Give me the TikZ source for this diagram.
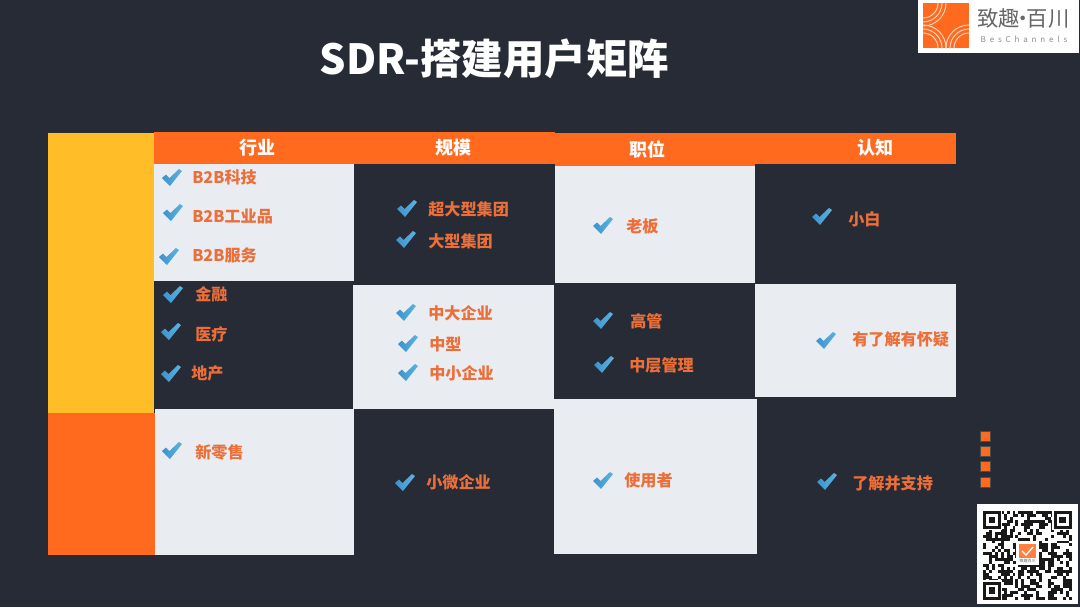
\documentclass[tikz,border=0pt]{standalone}
\usepackage{fontspec}
\setmainfont{Noto Sans CJK SC}
\usetikzlibrary{calc}
\definecolor{bgc}{HTML}{262B36}
\definecolor{orc}{HTML}{FF6A1F}
\definecolor{yec}{HTML}{FFBE28}
\definecolor{cellc}{HTML}{E9EDF2}
\definecolor{txtc}{HTML}{EC6E38}
\definecolor{chka}{HTML}{3C93CC}
\definecolor{chkb}{HTML}{5FB2E0}
\definecolor{arcc}{HTML}{FBD9C6}
\tikzset{
  headtxt/.style={text=white,font=\bfseries\fontsize{13.5}{15}\selectfont,inner sep=0pt},
  item/.style={text=txtc,font=\bfseries\fontsize{12.1}{14}\selectfont,anchor=west,inner sep=0pt},
  tick/.pic={\shade[left color=chka,right color=chkb] (-10,0) -- (-6,-3.5) -- (-2.5,0) -- (7,-9) -- (10,-7) -- (-2,8) -- cycle;}
}
% tick x, tick y, text x, text y, text
\newcommand{\itm}[5]{\pic at (#1,#2+1) {tick}; \node[item] (#5) at (#3,#4) {#5};}
\begin{document}
\begin{tikzpicture}[x=0.75pt,y=-0.75pt]
\useasboundingbox (0,0) rectangle (1080,607);
\fill[bgc] (0,0) rectangle (1080,607);
\node[text=white,font=\bfseries\fontsize{31.1}{34}\selectfont,inner sep=0pt] (title) at (494.5,59) {SDR-搭建用户矩阵};
% side bars
\fill[yec] (48,133) rectangle (154,413);
\fill[orc] (48,413) rectangle (155,555);
% cells
\fill[cellc] (154,164) rectangle (354,281);
\fill[cellc] (155,409) rectangle (354,555);
\fill[cellc] (353,285) rectangle (554,409);
\fill[cellc] (555,166) rectangle (755,283);
\fill[cellc] (554,399) rectangle (757,554);
\fill[cellc] (755,284) rectangle (956,397);
% headers
\fill[orc] (154,132) rectangle (354,164);
\fill[orc] (354,132) rectangle (555,164);
\fill[orc] (555,133) rectangle (755,166);
\fill[orc] (755,133) rectangle (956,164);
\node[headtxt] (行业) at (257,148) {行业};
\node[headtxt] (规模) at (453,148) {规模};
\node[headtxt] (职位) at (647,149) {职位};
\node[headtxt] (认知) at (875,148) {认知};
% col 1
\itm{172}{177}{192}{177}{B2B科技}
\itm{173}{212}{192}{216}{B2B工业品}
\itm{169}{256}{192}{255}{B2B服务}
\itm{173}{294}{195}{294}{金融}
\itm{171}{331}{195}{334}{医疗}
\itm{171}{373}{191}{373}{地产}
\itm{172}{450}{195}{452}{新零售}
% col 2
\itm{407}{208}{428}{209}{超大型集团}
\itm{406}{239}{428}{241}{大型集团}
\itm{406}{312}{428}{313}{中大企业}
\itm{408}{343}{429}{344}{中型}
\itm{408}{372}{429}{373}{中小企业}
\itm{405}{482}{426}{482}{小微企业}
% col 3
\itm{603}{225}{626}{226}{老板}
\itm{603}{320}{630}{321}{高管}
\itm{604}{364}{629}{365}{中层管理}
\itm{603}{480}{624}{480}{使用者}
% col 4
\itm{822}{216}{848}{219}{小白}
\itm{826}{340}{852}{339}{有了解有怀疑}
\itm{827}{481}{852}{483}{了解并支持}
% small squares
\foreach \yy in {436,451,466,482}{\fill[orc,draw=black!70,line width=0.3pt] (980,\yy-5) rectangle (990,\yy+5);}
% logo
\fill[white] (918,0) rectangle (1079,53);
\fill[orc] (923,3) rectangle (969,48);
\begin{scope}
\clip (923,3) rectangle (969,48);
\foreach \r in {15,19,23}{
  \draw[arcc,line width=0.7pt] (923,3) circle[radius=\r];
  \draw[arcc,line width=0.7pt] (923,48) circle[radius=\r];
  \draw[arcc,line width=0.7pt] (969,48) circle[radius=\r];
}
\end{scope}
\node[text=black!60,font=\fontsize{16}{18}\selectfont,inner sep=0pt] (logotxt) at (1023.5,18) {致趣\kern-.35em·\kern-.35em百川};
\node[text=black!45,font=\fontsize{6}{7}\selectfont,inner sep=0pt] (logosub) at (1024,39) {B\kern2.9pt e\kern2.9pt s\kern2.9pt C\kern2.9pt h\kern2.9pt a\kern2.9pt n\kern2.9pt n\kern2.9pt e\kern2.9pt l\kern2.9pt s};
% QR
\fill[white] (977,504) rectangle (1078,604);
\begin{scope}
\pgfmathsetseed{17}
\foreach \i in {0,...,29}{\foreach \j in {0,...,29}{
  \pgfmathparse{rnd>0.5?1:0}
  \ifnum\pgfmathresult=1\relax
    \fill[black!90] ({983+\i*2.95},{511+\j*2.95}) rectangle ++(2.95,2.95);
  \fi
}}
\foreach \cx/\cy in {983/511,1053.8/511,983/581.8}{
  \fill[white] (\cx-1.5,\cy-1.5) rectangle ++(20.7,20.7);
  \fill[black!90] (\cx,\cy) rectangle ++(17.7,17.7);
  \fill[white] (\cx+2.95,\cy+2.95) rectangle ++(11.8,11.8);
  \fill[black!90] (\cx+5.5,\cy+5.5) rectangle ++(6.7,6.7);
}
\fill[white] (1016,541) rectangle (1039,565);
\fill[orc!85] (1019,544) rectangle (1036,558);
\draw[white,line width=1pt] (1022,551) -- (1026,555) -- (1033,547);
\node[text=black!60,font=\fontsize{3}{3}\selectfont,inner sep=0pt] (qrtxt) at (1027.5,561) {致趣百川};
\end{scope}
\end{tikzpicture}
\end{document}
